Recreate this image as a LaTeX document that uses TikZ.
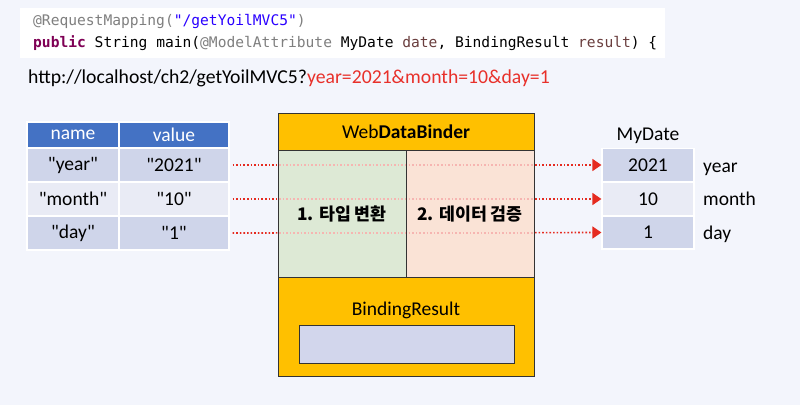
\documentclass[tikz,border=0pt]{standalone}
\usepackage{fontspec}
\setmainfont{Carlito}[Ligatures=TeXOff]
\setmonofont{DejaVu Sans Mono}
\newfontfamily\krfont{Noto Sans CJK KR}
\usetikzlibrary{arrows.meta}
\definecolor{bg}{HTML}{F3F5FC}
\definecolor{hdr}{HTML}{4472C4}
\definecolor{rowa}{HTML}{CFD5EA}
\definecolor{rowb}{HTML}{E9EBF5}
\definecolor{gold}{HTML}{FFC000}
\definecolor{greenbox}{HTML}{DDE9D5}
\definecolor{peach}{HTML}{FAE3D6}
\definecolor{innerbox}{HTML}{D2D6EC}
\definecolor{urlred}{HTML}{E8302A}
\definecolor{cgray}{HTML}{7F7F7F}
\definecolor{cblue}{HTML}{2A00FF}
\definecolor{cpurple}{HTML}{7F0055}
\definecolor{cbrown}{HTML}{6A3E3E}
\definecolor{arrred}{HTML}{E52B20}
\begin{document}
\begin{tikzpicture}[x=1pt,y=-1pt,
  cell/.style={draw=white,line width=1.2pt,minimum height=34pt,inner sep=0pt,font=\fontsize{19.5}{21}\selectfont},
  namecell/.style={cell,minimum width=92pt},
  valcell/.style={cell,minimum width=110pt},
  datecell/.style={cell,minimum width=92pt,minimum height=33pt},
  flow/.style={arrred,dotted,line width=1.6pt,-{Triangle[length=9pt,width=12pt]}},
  faint/.style={arrred!35,dotted,line width=1.6pt},
  lbl/.style={font=\fontsize{19.5}{21}\selectfont,inner sep=0pt},
  boxline/.style={draw=black!80,line width=1pt}]
\fill[bg] (0,0) rectangle (800,405);
\useasboundingbox (0,0) rectangle (800,405);
% code box
\fill[white] (20,8) rectangle (665,58);
\node[anchor=west,inner sep=0pt,font=\ttfamily\fontsize{14.6}{16}\selectfont] (code1) at (33,21)
  {\textcolor{cgray}{@RequestMapping(}\textcolor{cblue}{"/getYoilMVC5"}\textcolor{cgray}{)}};
\node[anchor=west,inner sep=0pt,font=\ttfamily\fontsize{14.6}{16}\selectfont] (code2) at (33,43)
  {\textcolor{cpurple}{\bfseries public} String main(\textcolor{cgray}{@ModelAttribute} MyDate \textcolor{cbrown}{date}, BindingResult \textcolor{cbrown}{result}) \{};
\node[anchor=west,inner sep=0pt,font=\fontsize{19.7}{21}\selectfont] (url) at (28,78)
  {http://localhost/ch2/getYoilMVC5?\textcolor{urlred}{year=2021\&month=10\&day=1}};
% left table
\node[namecell,fill=hdr,text=white,minimum height=26pt] (hn) at (73,135) {name};
\node[valcell,fill=hdr,text=white,minimum height=26pt] (hv) at (174,135) {value};
\node[namecell,fill=rowa] (n1) at (73,165) {"year"};
\node[valcell,fill=rowa] (v1) at (174,165) {"2021"};
\node[namecell,fill=rowb] (n2) at (73,199) {"month"};
\node[valcell,fill=rowb] (v2) at (174,199) {"10"};
\node[namecell,fill=rowa] (n3) at (73,233) {"day"};
\node[valcell,fill=rowa] (v3) at (174,233) {"1"};
% MyDate
\node[lbl] (mydate) at (648,136) {MyDate};
\node[datecell,fill=rowa] (d1) at (648,165) {2021};
\node[datecell,fill=rowb] (d2) at (648,199) {10};
\node[datecell,fill=rowa] (d3) at (648,232.5) {1};
\node[lbl,anchor=base west] (l1) at (703,172) {year};
\node[lbl,anchor=base west] (l2) at (703,205.5) {month};
\node[lbl,anchor=base west] (l3) at (703,239.5) {day};
% arrows
\draw[flow] ([xshift=3pt]v1.east) -- (d1.west);
\draw[flow] ([xshift=3pt]v2.east) -- (d2.west);
\draw[flow] ([xshift=3pt]v3.east) -- (d3.west);
% WebDataBinder box
\fill[gold] (278,113) rectangle (534,150);
\fill[greenbox] (278,150) rectangle (406,277);
\fill[peach] (406,150) rectangle (534,277);
\fill[gold] (278,277) rectangle (534,376);
\coordinate (bl1) at (279,165); \coordinate (br1) at (533,165);
\coordinate (bl2) at (279,199); \coordinate (br2) at (533,199);
\coordinate (bl3) at (279,233); \coordinate (br3) at (533,233);
\draw[faint] (bl1) -- (br1);
\draw[faint] (bl2) -- (br2);
\draw[faint] (bl3) -- (br3);
\draw[boxline] (278,150) -- (534,150);
\draw[boxline] (278,277) -- (534,277);
\draw[boxline] (406,150) -- (406,277);
\draw[boxline] (278,113) rectangle (534,376);
\node[lbl] (wdb) at (406,132) {Web\textbf{DataBinder}};
\node[inner sep=0pt,font=\krfont\bfseries\fontsize{17.3}{19}\selectfont] (conv) at (342,214) {1. 타입 변환};
\node[inner sep=0pt,font=\krfont\bfseries\fontsize{17.3}{19}\selectfont] (valid) at (470,214) {2. 데이터 검증};
\node[lbl] (br) at (406,310) {BindingResult};
\node[draw=black!80,line width=1pt,fill=innerbox,minimum width=215pt,minimum height=38pt,inner sep=0pt] (errs) at (406.5,344) {};
\end{tikzpicture}
\end{document}
